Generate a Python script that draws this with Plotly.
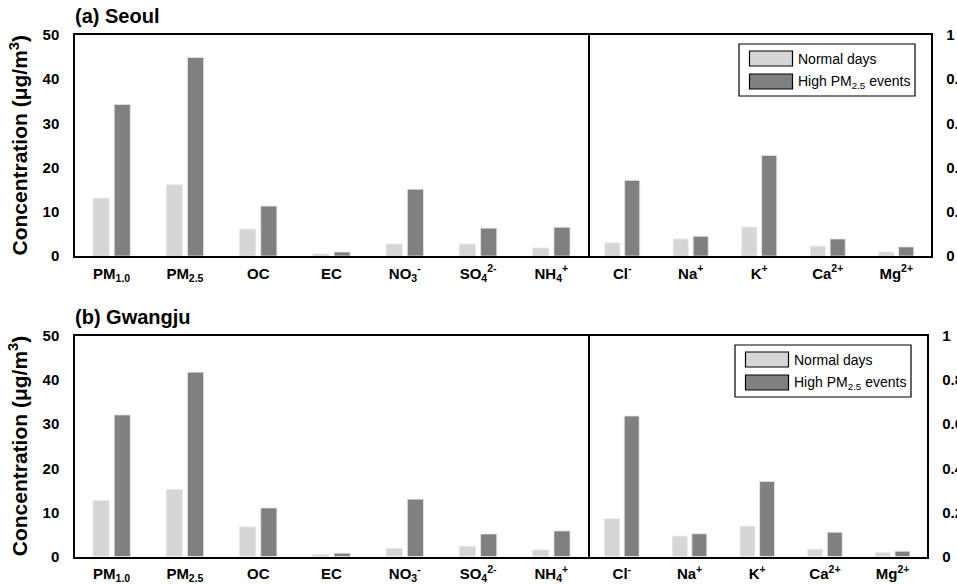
import plotly.graph_objects as go

# Species groups: carbon / secondary inorganic (left axis, µg/m³) and other ions (right axis)
main_species = ["PM<sub>1.0</sub>", "PM<sub>2.5</sub>", "OC", "EC",
                "NO<sub>3</sub><sup>-</sup>", "SO<sub>4</sub><sup>2-</sup>", "NH<sub>4</sub><sup>+</sup>"]
minor_species = ["Cl<sup>-</sup>", "Na<sup>+</sup>", "K<sup>+</sup>", "Ca<sup>2+</sup>", "Mg<sup>2+</sup>"]

# Seoul
seoul_normal_main = [13.1, 16.1, 6.1, 0.45, 2.7, 2.7, 1.8]
seoul_high_main = [34.3, 44.9, 11.3, 0.9, 15.1, 6.3, 6.5]
seoul_normal_minor = [0.059, 0.077, 0.130, 0.044, 0.018]
seoul_high_minor = [0.342, 0.089, 0.455, 0.077, 0.041]

# Gwangju
gwangju_normal_main = [12.7, 15.2, 6.7, 0.45, 1.8, 2.3, 1.5]
gwangju_high_main = [32.1, 41.8, 11.0, 0.75, 13.0, 5.1, 5.8]
gwangju_normal_minor = [0.171, 0.092, 0.137, 0.033, 0.017]
gwangju_high_minor = [0.637, 0.103, 0.340, 0.110, 0.024]

left_ticks = [0, 10, 20, 30, 40, 50]
right_ticks = [0, 0.2, 0.4, 0.6, 0.8, 1]

series_names = ["Normal days", "High PM<sub>2.5</sub> events"]

W, H = 957, 584
FONT = "Arial, Liberation Sans, sans-serif"
LIGHT = "#D6D6D6"
DARK = "#808080"


def px(x):
    return x / W


def py(y):
    return 1 - y / H


fig = go.Figure()

panels = [
    # (axis suffixes, data, pixel box, title)
    (("", "2"), (seoul_normal_main, seoul_high_main, seoul_normal_minor, seoul_high_minor),
     (75, 930.5, 35, 256), "(a) Seoul"),
    (("3", "4"), (gwangju_normal_main, gwangju_high_main, gwangju_normal_minor, gwangju_high_minor),
     (75, 926.5, 336, 556.5), "(b) Gwangju"),
]

divider_x = 588
bar_w = 0.22
offsets = (-0.255, 0.035)
colors = (LIGHT, DARK)

for (sa, sb), data, (x0, x1, y0, y1), title in panels:
    n_main, h_main, n_minor, h_minor = data
    xa, ya = "x" + sa, "y" + sa
    xb, yb = "x" + sb, "y" + sb
    for vals, off, col, name in zip((n_main, h_main), offsets, colors, series_names):
        fig.add_trace(go.Bar(x=main_species, y=vals, xaxis=xa, yaxis=ya, width=bar_w, offset=off,
                             marker=dict(color=col, line=dict(color="#E6E6E6", width=0.8)),
                             name=name, showlegend=False))
    for vals, off, col, name in zip((n_minor, h_minor), offsets, colors, series_names):
        fig.add_trace(go.Bar(x=minor_species, y=vals, xaxis=xb, yaxis=yb, width=bar_w, offset=off,
                             marker=dict(color=col, line=dict(color="#E6E6E6", width=0.8)),
                             name=name, showlegend=False))

    common = dict(showline=True, linecolor="black", linewidth=1.5,
                  showgrid=False, zeroline=False, ticks="", automargin=False)
    tickfont = dict(family=FONT, size=15, color="black", weight="bold")
    ydom = [py(y1), py(y0)]

    fig.update_layout(**{
        "xaxis" + sa: dict(domain=[px(x0), px(divider_x)], anchor=ya, type="category",
                           range=[-0.5, len(main_species) - 0.5], tickfont=tickfont,
                           ticklabelstandoff=3, mirror=True, **common),
        # left axis mirror line doubles as the divider between species groups
        "yaxis" + sa: dict(domain=ydom, anchor=xa, range=[0, 50], tickvals=left_ticks,
                           tickfont=tickfont, ticklabelstandoff=11, mirror=True, **common),
        "xaxis" + sb: dict(domain=[px(divider_x), px(x1)], anchor=yb, type="category",
                           range=[-0.5, len(minor_species) - 0.5], tickfont=tickfont,
                           ticklabelstandoff=3, mirror=True, **common),
        "yaxis" + sb: dict(domain=ydom, anchor=xb, side="right", range=[0, 1],
                           tickvals=right_ticks, tickfont=tickfont, ticklabelstandoff=11,
                           mirror=False, **common),
    })

    # panel title
    fig.add_annotation(text=title, x=px(x0 - 2), y=py(y0 - 19), xref="paper", yref="paper",
                       xanchor="left", yanchor="middle", showarrow=False,
                       font=dict(family=FONT, size=20, color="black", weight="bold"))
    # y-axis title
    fig.add_annotation(text="Concentration (μg/m<sup>3</sup>)", x=px(18), y=py((y0 + y1) / 2),
                       xref="paper", yref="paper", xanchor="center", yanchor="middle",
                       textangle=-90, showarrow=False,
                       font=dict(family=FONT, size=21, color="black", weight="bold"))

    # legend box drawn inside the ion section
    lx0, lx1 = x1 - 191.5, x1 - 15.5
    ly0, ly1 = y0 + 9, y0 + 61
    fig.add_shape(type="rect", xref="paper", yref="paper", x0=px(lx0), x1=px(lx1),
                  y0=py(ly1), y1=py(ly0), line=dict(color="black", width=1.2),
                  fillcolor="white", layer="above")
    for i, (col, name) in enumerate(zip(colors, series_names)):
        sy0 = y0 + 16 + i * 23
        fig.add_shape(type="rect", xref="paper", yref="paper",
                      x0=px(lx0 + 10.5), x1=px(lx0 + 53.5), y0=py(sy0 + 15), y1=py(sy0),
                      line=dict(color="black", width=1.2), fillcolor=col, layer="above")
        fig.add_annotation(text=name, x=px(lx0 + 57), y=py(sy0 + 7.5), xref="paper", yref="paper",
                           xanchor="left", yanchor="middle", showarrow=False,
                           font=dict(family=FONT, size=14, color="black"))

fig.update_layout(width=W, height=H, margin=dict(l=0, r=0, t=0, b=0),
                  paper_bgcolor="white", plot_bgcolor="white", showlegend=False,
                  barmode="overlay", font=dict(family=FONT, color="black"))

fig.write_html("out.html")
